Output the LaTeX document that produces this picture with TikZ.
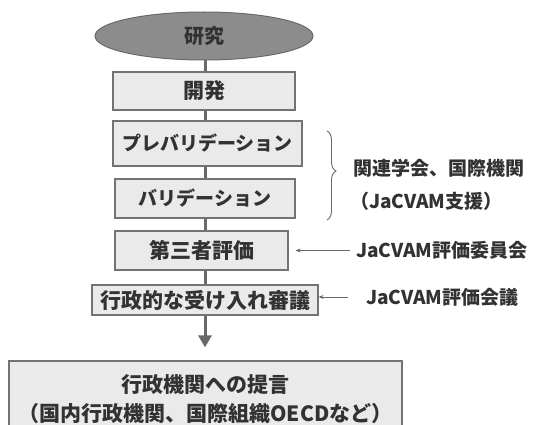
\documentclass[tikz,border=0pt]{standalone}
\usepackage{fontspec}
\setmainfont{Noto Sans CJK JP}
\usetikzlibrary{arrows.meta,decorations.pathreplacing,shapes.geometric}
\definecolor{txt}{RGB}{50,50,50}
\definecolor{boxfill}{RGB}{234,234,234}
\definecolor{boxline}{RGB}{115,115,115}
\definecolor{ellfill}{RGB}{140,140,140}
\definecolor{ellline}{RGB}{105,105,105}
\definecolor{conn}{RGB}{105,105,105}
\tikzset{
  stepbox/.style={draw=boxline,line width=1.2pt,fill=boxfill,text=txt,inner sep=0pt,
    font=\bfseries\fontsize{21}{26}\selectfont},
  katabox/.style={stepbox,font=\bfseries\fontsize{19}{24}\selectfont},
  sidelabel/.style={text=txt,inner sep=0pt,anchor=west,align=left,
    font=\bfseries\fontsize{19}{33}\selectfont},
  spine/.style={draw=conn,line width=3pt},
  sidearrow/.style={draw=conn,line width=1pt,-{Stealth[length=5pt,width=4pt]}},
}
\begin{document}
\begin{tikzpicture}[x=1pt,y=1pt]
\useasboundingbox (0,0) rectangle (540,-425);
\coordinate (sp) at (205,0);
\node[ellipse,draw=ellline,line width=1pt,fill=ellfill,text=txt,minimum width=218pt,minimum height=48pt,inner sep=0pt,
  font=\bfseries\fontsize{20}{24}\selectfont] (research) at (204,-36) {研究};
\node[stepbox,minimum width=182pt,minimum height=38pt] (dev) at (204,-91) {開発};
\node[katabox,minimum width=189pt,minimum height=45pt] (preval) at (207.5,-143.5) {プレバリデーション};
\node[katabox,minimum width=180pt,minimum height=39pt] (val) at (205,-198.5) {バリデーション};
\node[stepbox,minimum width=173pt,minimum height=39pt] (third) at (201.5,-250.5) {第三者評価};
\node[stepbox,minimum width=226pt,minimum height=30pt] (admin) at (205,-300) {行政的な受け入れ審議};
\node[stepbox,minimum width=393pt,minimum height=77pt,align=center,
  font=\bfseries\fontsize{21}{29}\selectfont] (final) at (205.5,-399.5) {行政機関への提言\\（国内行政機関、国際組織OECDなど）};
% spine connectors
\draw[spine] (research.south -| sp) -- (dev.north -| sp);
\draw[spine] (dev.south -| sp) -- (preval.north -| sp);
\draw[spine] (preval.south -| sp) -- (val.north -| sp);
\draw[spine] (val.south -| sp) -- (third.north -| sp);
\draw[spine] (third.south -| sp) -- (admin.north -| sp);
\draw[spine,-{Triangle[width=13pt,length=12pt]},shorten >=13pt] (admin.south -| sp) -- (final.north -| sp);
% brace and side labels
\coordinate (bt) at (327,-131);
\coordinate (bb) at (327,-220);
\draw[draw=conn,line width=0.9pt,decorate,decoration={brace,amplitude=9pt,aspect=0.45}] (bt) -- (bb);
\node[sidelabel] (org) at (350,-185) {\hspace*{3pt}関連学会、国際機関\\（JaCVAM支援）};
\node[sidelabel] (cmte) at (356,-250.5) {JaCVAM評価委員会};
\node[sidelabel] (conf) at (366,-297) {JaCVAM評価会議};
\draw[sidearrow,shorten <=6pt,shorten >=7pt] (cmte.west) -- (third.east |- cmte.west);
\draw[sidearrow,shorten <=18pt,shorten >=0pt] (conf.west) -- (admin.east |- conf.west);
\end{tikzpicture}
\end{document}
